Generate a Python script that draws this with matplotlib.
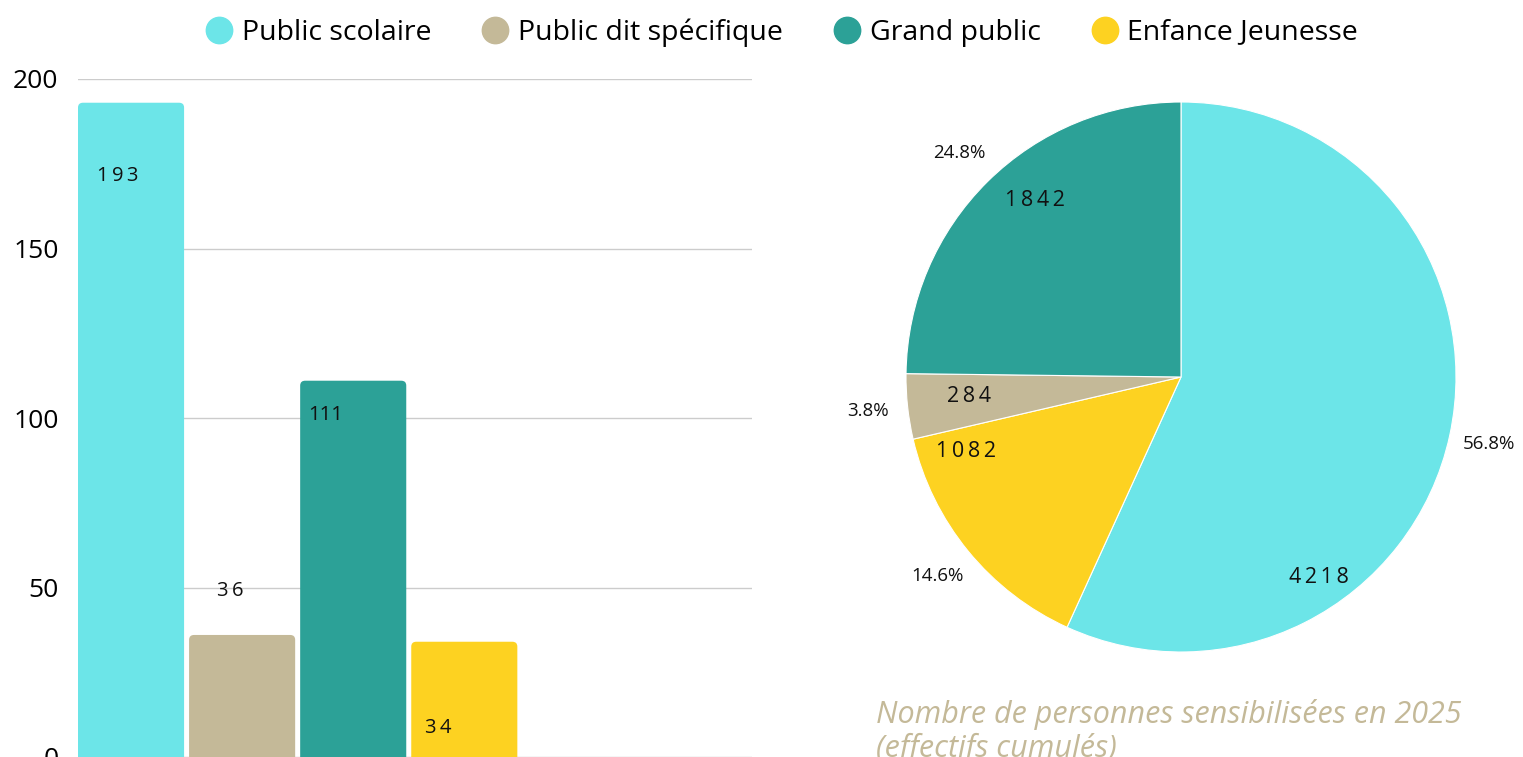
import matplotlib.pyplot as plt
from matplotlib.patches import FancyBboxPatch

plt.rcParams['font.family'] = ['Open Sans', 'DejaVu Sans']

# data
categories = ['Public scolaire', 'Public dit spécifique', 'Grand public', 'Enfance Jeunesse']
bar_values = [193, 36, 111, 34]
bar_labels = ['1\u20099\u20093', '3\u20096', '111', '3\u20094']
colors = ['#6ce5e8', '#c4b998', '#2ca197', '#fdd221']

pie_order = ['Public scolaire', 'Enfance Jeunesse', 'Public dit spécifique', 'Grand public']
pie_values = [4218, 1082, 284, 1842]
pie_value_labels = ['4\u20092\u20091\u20098', '1\u20090\u20098\u20092', '2\u20098\u20094', '1\u20098\u20094\u20092']

caption = 'Nombre de personnes sensibilisées en 2025\n(effectifs cumulés)'

W, H = 1523, 757
fig = plt.figure(figsize=(W / 100, H / 100), dpi=100)

# ---- bar chart
ax = fig.add_axes([78 / W, 0, (752 - 78) / W, (757 - 79) / H])
xs = list(range(len(bar_values)))
bars = ax.bar(xs, bar_values, width=0.955, color=colors, zorder=2)
# rounded tops
for rect, c in zip(bars, colors):
    x0, w, h = rect.get_x(), rect.get_width(), rect.get_height()
    rect.set_visible(False)
    ax.add_patch(FancyBboxPatch((x0, -3), w, h + 3,
                                boxstyle='round,pad=0,rounding_size=0.045',
                                mutation_aspect=32, facecolor=c, edgecolor='none',
                                zorder=2))
ax.set_xlim(-0.4775, 5.59)
ax.set_ylim(0, 200)
ax.set_yticks([0, 50, 100, 150, 200])
ax.yaxis.grid(True, color='#cccccc', linewidth=1, zorder=0)
ax.set_axisbelow(True)
ax.set_xticks([])
for s in ax.spines.values():
    s.set_visible(False)
ax.tick_params(axis='y', length=0, pad=14, labelsize=19)

# label placement (x offset from bar centre, y in data units)
label_dx = [-0.12, -0.11, -0.25, -0.23]
label_y = [171.5, 49, 101, 8.6]
for x, lab, dx, y in zip(xs, bar_labels, label_dx, label_y):
    ax.text(x + dx, y, lab, ha='center', va='center', fontsize=14.5,
            color='#111111', zorder=3)

# ---- pie chart
r_px = 275
cx, cy = 1181, 757 - 377
half = r_px * 1.3
pax = fig.add_axes([(cx - half) / W, (cy - half) / H, 2 * half / W, 2 * half / H])
total = sum(pie_values)
pcts = ['%.1f%%' % (v * 100 / total) for v in pie_values]
pie_colors = [colors[categories.index(c)] for c in pie_order]
wedges, texts = pax.pie(pie_values, colors=pie_colors, startangle=90, counterclock=False,
                        labels=pcts, labeldistance=1.145,
                        wedgeprops=dict(edgecolor='white', linewidth=0.8),
                        textprops=dict(fontsize=13.5, color='#111111'))
for t in texts:
    t.set_ha('center')
    t.set_va('center')
pax.set_xlim(-1.3, 1.3)
pax.set_ylim(-1.3, 1.3)
pax.set_aspect('equal')
pax.axis('off')

value_pos = [(0.50, -0.73), (-0.78, -0.27), (-0.77, -0.07), (-0.53, 0.64)]
for (px, py), lab in zip(value_pos, pie_value_labels):
    pax.text(px, py, lab, ha='center', va='center', fontsize=15.5, color='#111111')

# ---- legend
handles = [plt.Line2D([], [], marker='o', linestyle='none', markersize=19,
                      markerfacecolor=c, markeredgecolor=c) for c in colors]
fig.legend(handles, categories, loc='upper center', bbox_to_anchor=(0.513, 1.01),
           ncol=4, frameon=False, fontsize=20.5, handletextpad=0.3,
           columnspacing=1.75, handlelength=1.0)

fig.text(876 / W, 58 / H, caption, ha='left', va='top', fontsize=22,
         style='italic', color='#c4b998', linespacing=1.12)

fig.savefig('out.png', dpi=100)
